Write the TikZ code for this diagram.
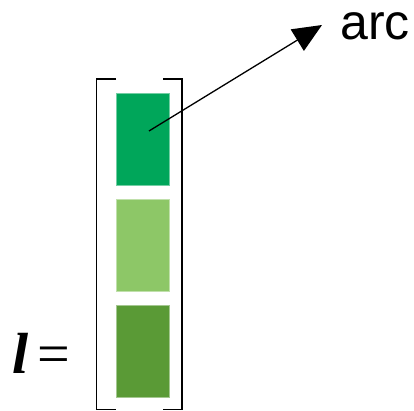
\documentclass[tikz,border=0pt]{standalone}
\usepackage{fontspec}
\setmainfont{Liberation Sans}
\newfontfamily\timesfont{Liberation Serif}
\usetikzlibrary{arrows.meta,positioning}
\definecolor{arcgreen}{RGB}{0,166,90}
\definecolor{lightgreen}{RGB}{141,199,103}
\definecolor{midgreen}{RGB}{90,154,54}
\tikzstyle{cell}=[rectangle,draw=#1!55!white,fill=#1,line width=0.8pt,minimum width=53pt,minimum height=92pt,inner sep=0pt]
\tikzstyle{brk}=[line width=1.4pt]
\tikzstyle{arr}=[-{Triangle[length=29pt,width=25pt]},line width=1.3pt]

\begin{document}
\begin{tikzpicture}[x=1pt,y=-1pt,node distance=13.5pt]
\useasboundingbox (0,0) rectangle (414,411);
\node[cell=arcgreen] (c1) at (142.5,139) {};
\node[cell=lightgreen, below=of c1] (c2) {};
\node[cell=midgreen, below=of c2] (c3) {};
% brackets
\draw[brk] (116,79) -- (96.5,79) -- (96.5,409.5) -- (116,409.5);
\draw[brk] (163,79) -- (182,79) -- (182,409.5) -- (163,409.5);
\node[anchor=base west, inner sep=0pt, font=\timesfont\fontsize{58}{60}\selectfont] (lhs) at (12,373) {\textbf{\textit{l}}\,=};
\node[anchor=base west, inner sep=0pt, font=\fontsize{50}{60}\selectfont] (arc) at (340,40) {arc};
\coordinate (tail) at (149,131);
\coordinate (tip) at (322,25);
\draw[arr] (tail) -- (tip);
\end{tikzpicture}
\end{document}
